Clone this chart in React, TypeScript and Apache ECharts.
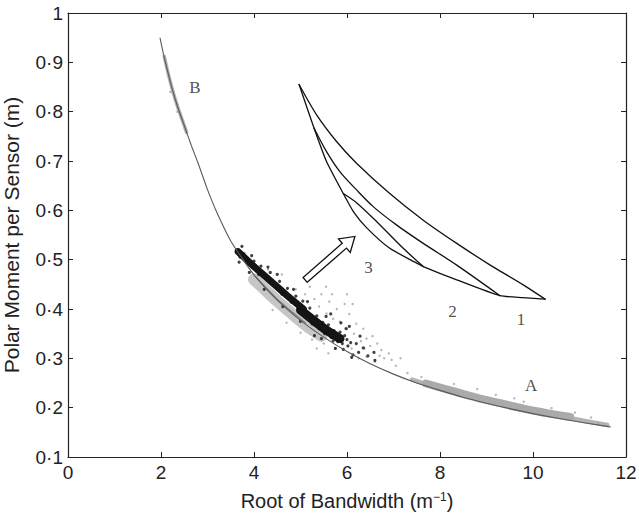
import React, { useEffect, useRef } from 'react';
import * as echarts from 'echarts';

// Axis ranges / ticks
const xTicks = [0, 2, 4, 6, 8, 10, 12];
const yTicks = [0.1, 0.2, 0.3, 0.4, 0.5, 0.6, 0.7, 0.8, 0.9, 1];

// Main fitted curve
const curveX = [1.98, 2.05, 2.15, 2.25, 2.35, 2.5, 2.65, 2.8, 3.0, 3.2, 3.5, 4.0, 4.5, 5.0, 5.5, 6.0, 6.5, 7.0, 7.5, 8.0, 8.5, 9.0, 9.5, 10.0, 10.5, 11.0, 11.66];
const curveY = [0.949, 0.918, 0.879, 0.843, 0.812, 0.772, 0.732, 0.695, 0.642, 0.596, 0.538, 0.469, 0.418, 0.377, 0.343, 0.314, 0.289, 0.268, 0.250, 0.235, 0.221, 0.209, 0.198, 0.188, 0.179, 0.171, 0.161];

// Grey cloud B (upper-left)
const bandB = [[2.07, 0.912], [2.15, 0.879], [2.25, 0.843], [2.35, 0.812], [2.45, 0.785], [2.55, 0.758]];
// Grey cloud A (lower-right)
const bandAThin = [[7.4, 0.257], [7.9, 0.242], [8.5, 0.226], [9.0, 0.214], [9.5, 0.203], [10.0, 0.193], [10.5, 0.184], [11.0, 0.175], [11.6, 0.165]];
const bandACore = [[7.7, 0.249], [8.3, 0.233], [8.8, 0.220], [9.3, 0.209], [9.8, 0.198], [10.3, 0.189], [10.8, 0.181]];
// Grey lens under the dense cluster
const greyLens = [[4.0, 0.46], [4.13, 0.449], [4.49, 0.417], [4.85, 0.388], [5.13, 0.366], [5.45, 0.346]];
const greyLensLine = [[4.04, 0.465], [4.5, 0.42], [5.1, 0.372]];
// Dense black band
const blackBandA = [[3.66, 0.516], [3.99, 0.487], [4.34, 0.458], [4.7, 0.428], [5.06, 0.4]];
const blackBandB = [[5.0, 0.398], [5.28, 0.377], [5.56, 0.357], [5.85, 0.34]];

const blackDots = [
  [3.62, 0.52], [3.7, 0.505], [3.78, 0.512], [3.86, 0.5], [3.9, 0.474], [4.0, 0.497], [4.1, 0.47], [4.15, 0.487],
  [4.25, 0.462], [4.35, 0.474], [4.42, 0.448], [4.55, 0.456], [4.6, 0.43], [4.72, 0.442], [4.8, 0.414], [4.9, 0.426],
  [4.95, 0.4], [5.05, 0.416], [5.12, 0.388], [5.2, 0.402], [5.25, 0.37], [5.35, 0.386], [5.4, 0.36], [5.48, 0.373],
  [5.52, 0.35], [5.6, 0.368], [5.66, 0.342], [5.72, 0.356], [5.8, 0.334], [5.85, 0.353], [5.9, 0.33], [5.95, 0.346],
  [6.02, 0.325], [6.08, 0.332], [6.13, 0.307], [6.25, 0.312], [6.35, 0.321], [6.45, 0.305], [6.6, 0.296], [6.58, 0.312],
  [5.87, 0.372], [6.05, 0.365], [5.65, 0.39], [6.28, 0.345], [4.22, 0.44], [4.62, 0.405], [5.0, 0.375], [5.3, 0.346],
  [6.1, 0.302], [3.74, 0.527], [5.45, 0.34], [5.75, 0.32], [3.68, 0.495], [3.95, 0.508], [4.3, 0.485], [4.5, 0.47],
  [4.85, 0.44], [5.15, 0.415], [5.55, 0.385], [5.98, 0.36], [6.0, 0.338], [5.7, 0.335], [5.92, 0.318], [6.2, 0.33]
];

const greyDots = [
  [5.3, 0.42], [5.45, 0.43], [5.56, 0.391], [5.62, 0.415], [5.7, 0.38], [5.78, 0.4], [5.85, 0.374], [5.95, 0.41],
  [6.0, 0.36], [6.05, 0.39], [6.15, 0.35], [6.2, 0.37], [6.3, 0.335], [6.35, 0.36], [6.42, 0.34], [6.5, 0.325],
  [6.55, 0.345], [6.6, 0.293], [6.65, 0.33], [6.74, 0.317], [6.8, 0.3], [6.9, 0.31], [6.96, 0.297], [7.05, 0.285],
  [7.15, 0.3], [6.42, 0.303], [6.25, 0.3], [6.1, 0.32], [5.9, 0.34], [5.5, 0.33], [5.75, 0.32], [4.9, 0.44],
  [5.1, 0.43], [5.2, 0.445], [4.3, 0.48], [4.6, 0.47], [5.55, 0.445], [6.0, 0.43], [4.4, 0.398], [4.7, 0.372],
  [5.0, 0.352], [5.25, 0.338], [7.3, 0.27], [7.6, 0.262], [8.3, 0.248], [9.2, 0.226], [9.8, 0.212], [10.4, 0.199],
  [10.9, 0.19], [11.25, 0.18], [8.8, 0.238], [9.6, 0.219], [10.2, 0.184], [11.4, 0.17], [2.2, 0.84], [2.35, 0.8],
  [5.4, 0.405], [5.68, 0.43], [6.12, 0.41], [6.38, 0.32], [6.7, 0.305], [5.35, 0.32], [5.6, 0.31]
];

// Inset loops (numbered 1, 2, 3)
const loop1Upper = [[4.97, 0.855], [5.35, 0.793], [5.78, 0.739], [6.21, 0.695], [6.92, 0.634], [7.64, 0.58], [8.36, 0.533], [9.08, 0.489], [9.79, 0.449], [10.26, 0.42]];
const loop2Upper = [[5.29, 0.767], [5.56, 0.719], [5.85, 0.678], [6.21, 0.641], [6.57, 0.607], [7.07, 0.57], [7.64, 0.533], [8.36, 0.489], [9.29, 0.427]];
const loop3Upper = [[5.92, 0.634], [6.21, 0.615], [6.64, 0.577], [7.21, 0.523], [7.64, 0.486]];
const loopLower = [[4.97, 0.855], [5.29, 0.767], [5.56, 0.699], [5.92, 0.634], [6.14, 0.597], [6.43, 0.564], [6.92, 0.523], [7.5, 0.493], [7.64, 0.486], [8.36, 0.459], [9.29, 0.427], [9.79, 0.423], [10.26, 0.42]];

// Arrow: tail (x, y) -> head (x, y)
const arrow = [[5.1, 0.459, 6.17, 0.547]];

// Text labels
const labelNames = ['B', 'A', '1', '2', '3'];
const labelX = [2.73, 9.96, 9.74, 8.27, 6.46];
const labelY = [0.85, 0.244, 0.378, 0.394, 0.484];

const fmtY = (v: number) => (Math.abs(v - 1) < 1e-9 ? '1' : v.toFixed(1).replace('.', '\u00B7'));

export default function App() {
  const ref = useRef<HTMLDivElement>(null);
  useEffect(() => {
    if (!ref.current) return;
    const chart = echarts.init(ref.current, undefined, { renderer: 'svg' });
    const axisColor = '#222';
    const tickStyle = { show: true, inside: true, length: 5, lineStyle: { color: axisColor, width: 1 } };
    const lineStyle = { color: axisColor, width: 1.2 };
    const sans = 'Liberation Sans, Arial, sans-serif';
    const serif = 'Liberation Serif, Times New Roman, serif';
    const line = (data: number[][], color: string, width: number, z: number, smooth: any = 0.3, opacity = 1) => ({
      type: 'line', data, smooth, symbol: 'none', z, silent: true,
      lineStyle: { color, width, opacity, cap: 'round', join: 'round' },
    });
    chart.setOption({
      animation: false,
      backgroundColor: '#fff',
      grid: { left: 68, right: 13, top: 13, bottom: 59, containLabel: false, outerBoundsMode: 'none' },
      xAxis: [
        {
          type: 'value', min: xTicks[0], max: xTicks[xTicks.length - 1], interval: 2, position: 'bottom',
          axisLine: { onZero: false, lineStyle }, axisTick: tickStyle, splitLine: { show: false },
          axisLabel: { color: axisColor, fontSize: 19, fontFamily: sans, margin: 6 },
          name: 'Root of Bandwidth (m{sup|\u22121})', nameLocation: 'middle', nameGap: 34,
          nameTextStyle: {
            color: axisColor, fontSize: 20, fontFamily: sans,
            rich: { sup: { fontSize: 12, fontFamily: sans, color: axisColor, verticalAlign: 'top' } },
          },
        },
        {
          type: 'value', min: xTicks[0], max: xTicks[xTicks.length - 1], interval: 2, position: 'top',
          axisLine: { onZero: false, lineStyle }, axisTick: tickStyle, splitLine: { show: false }, axisLabel: { show: false },
        },
      ],
      yAxis: [
        {
          type: 'value', min: yTicks[0], max: yTicks[yTicks.length - 1], interval: 0.1, position: 'left',
          axisLine: { onZero: false, lineStyle }, axisTick: tickStyle, splitLine: { show: false },
          axisLabel: { color: axisColor, fontSize: 19, fontFamily: sans, margin: 5, formatter: fmtY },
          name: 'Polar Moment per Sensor (m)', nameLocation: 'middle', nameGap: 46, nameRotate: 90,
          nameTextStyle: { color: axisColor, fontSize: 21, fontFamily: sans },
        },
        {
          type: 'value', min: yTicks[0], max: yTicks[yTicks.length - 1], interval: 0.1, position: 'right',
          axisLine: { onZero: false, lineStyle }, axisTick: tickStyle, splitLine: { show: false }, axisLabel: { show: false },
        },
      ],
      series: [
        line(bandB, '#b0b0b0', 3.5, 1, 0.2),
        line(bandAThin, '#b4b4b4', 4.5, 1),
        line(bandACore, '#aaaaaa', 8, 1),
        line(greyLens, '#c6c6c6', 12, 1),
        {
          type: 'scatter', data: greyDots, symbolSize: 2.4, z: 2, silent: true,
          itemStyle: { color: '#a4a4a4' },
        },
        line(blackBandA, '#151515', 7, 3),
        line(blackBandB, '#151515', 9, 3),
        {
          type: 'scatter', data: blackDots, symbolSize: 3.2, z: 3, silent: true,
          itemStyle: { color: '#111' },
        },
        line(greyLensLine, '#7a7a7a', 1.2, 4, 0.2),
        line(curveX.map((x, i) => [x, curveY[i]]), '#5a5a5a', 1.1, 4, 0.2),
        line(loop1Upper, '#111', 1.3, 6),
        line(loop2Upper, '#111', 1.3, 6),
        line(loop3Upper, '#111', 1.3, 6),
        line(loopLower, '#111', 1.3, 6, 0.2),
        {
          type: 'custom', z: 7, silent: true,
          data: arrow,
          dimensions: ['x1', 'y1', 'x2', 'y2'],
          encode: { x: [0, 2], y: [1, 3] },
          renderItem: (params: any, api: any) => {
            const p1 = api.coord([api.value(0), api.value(1)]);
            const p2 = api.coord([api.value(2), api.value(3)]);
            const dx = p2[0] - p1[0];
            const dy = p2[1] - p1[1];
            const L = Math.hypot(dx, dy);
            const ux = dx / L, uy = dy / L;
            const nx = -uy, ny = ux;
            const sw = 3.2, hw = 9, hl = 14;
            const bx = p2[0] - ux * hl, by = p2[1] - uy * hl;
            const pts = [
              [p1[0] + nx * sw, p1[1] + ny * sw],
              [bx + nx * sw, by + ny * sw],
              [bx + nx * hw, by + ny * hw],
              [p2[0], p2[1]],
              [bx - nx * hw, by - ny * hw],
              [bx - nx * sw, by - ny * sw],
              [p1[0] - nx * sw, p1[1] - ny * sw],
            ];
            return { type: 'polygon', shape: { points: pts }, style: { fill: '#fff', stroke: '#111', lineWidth: 1.3 } };
          },
        },
        {
          type: 'scatter', z: 8, silent: true, symbolSize: 1,
          itemStyle: { color: 'rgba(0,0,0,0)' },
          data: labelNames.map((n, i) => ({ name: n, value: [labelX[i], labelY[i]] })),
          label: { show: true, position: 'inside', formatter: '{b}', fontFamily: serif, fontSize: 17, color: '#222' },
        },
      ],
    });
    return () => chart.dispose();
  }, []);
  return <div ref={ref} style={{ position: 'absolute', left: 0, top: 0, width: 639, height: 516, background: '#fff' }} />;
}
